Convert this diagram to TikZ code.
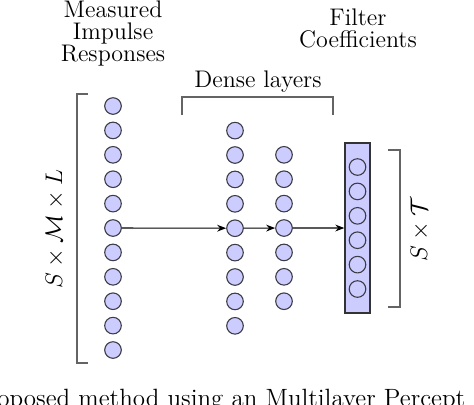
\documentclass[tikz,border=0pt]{standalone}
\usetikzlibrary{arrows.meta}
\definecolor{nfill}{RGB}{204,204,255}
\definecolor{nline}{RGB}{60,60,70}
\definecolor{brk}{RGB}{100,100,100}
\begin{document}
\begin{tikzpicture}[x=0.5pt,y=-0.5pt,
  neuron/.style={circle,draw=nline,fill=nfill,line width=0.55pt,minimum size=8.3pt,inner sep=0pt},
  outneuron/.style={circle,draw=nline,fill=nfill,line width=0.55pt,minimum size=8.3pt,inner sep=0pt},
  outbox/.style={rectangle,draw=black!80,fill=nfill,line width=0.7pt,minimum width=12.5pt,minimum height=85pt,inner sep=0pt},
  link/.style={draw=black,line width=0.55pt,-{Stealth[length=4.5pt,width=3.4pt]}},
  bracket/.style={draw=brk,line width=0.65pt},
  lbl/.style={font=\fontsize{12}{11}\selectfont,align=center,inner sep=0pt},
  mlbl/.style={font=\fontsize{13}{15}\selectfont,inner sep=0pt,rotate=90}]
\useasboundingbox (0,0) rectangle (474,404);
% column 1: 11 neurons
\foreach \i in {1,...,11}
  \node[neuron] (c1-\i) at (113,{106+(\i-1)*24.4}) {};
% column 2: 9 neurons
\foreach \i in {1,...,9}
  \node[neuron] (c2-\i) at (235,{130.6+(\i-1)*24.4}) {};
% column 3: 7 neurons
\foreach \i in {1,...,7}
  \node[neuron] (c3-\i) at (284,{154.8+(\i-1)*24.4}) {};
% output box
\node[outbox] (box) at (357.5,228) {};
\foreach \i in {1,...,6}
  \node[outneuron] (o-\i) at (357.5,{167+(\i-1)*24.4}) {};
% connectors
\draw[link] (c1-6) -- (c2-5);
\draw[link] (c2-5) -- (c3-4);
\draw[link] (c3-4) -- (box.west);
% brackets
\coordinate (lb1) at (88,94); \coordinate (lb2) at (77,94);
\coordinate (lb3) at (77,363); \coordinate (lb4) at (88,363);
\draw[bracket] (lb1) -- (lb2) -- (lb3) -- (lb4);
\coordinate (db1) at (182,115); \coordinate (db2) at (182,97);
\coordinate (db3) at (333,97); \coordinate (db4) at (333,115);
\draw[bracket] (db1) -- (db2) -- (db3) -- (db4);
\coordinate (rb1) at (388,150); \coordinate (rb2) at (400,150);
\coordinate (rb3) at (400,307); \coordinate (rb4) at (388,307);
\draw[bracket] (rb1) -- (rb2) -- (rb3) -- (rb4);
% labels (base = baseline of last line)
\node[lbl,anchor=base] (mir) at (113,61) {Measured\\Impulse\\Responses};
\node[lbl,anchor=base] (fc) at (358,47) {Filter\\Coefficients};
\node[lbl,anchor=base] (dl) at (258,87) {Dense layers};
\node[mlbl] (sml) at (55,229) {$S\times\mathcal{M}\times L$};
\node[mlbl] (st) at (420,229) {$S\times\mathcal{T}$};
% caption fragment
\node[font=\fontsize{12.5}{14}\selectfont,anchor=base west,inner sep=0pt] (cap) at (-3,406) {oposed method using an Multilayer Percept};
\end{tikzpicture}
\end{document}
